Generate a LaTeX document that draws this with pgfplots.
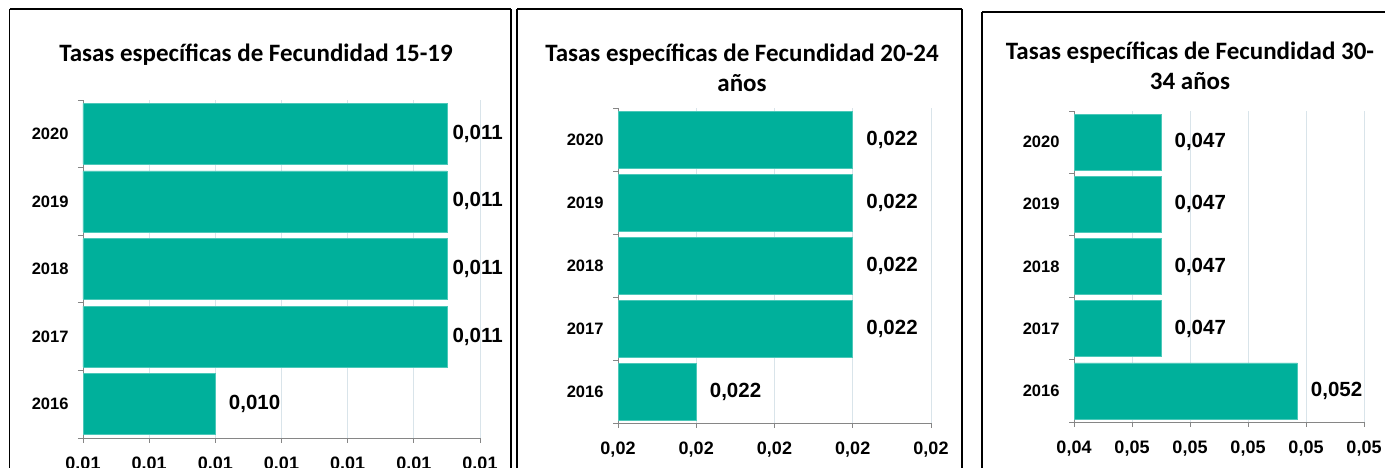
\documentclass[border=0pt]{standalone}
\usepackage{fontspec}
\setmainfont{Liberation Sans}
\newfontfamily\calibri{Carlito}
\usepackage{pgfplots}
\pgfplotsset{compat=1.18}
\definecolor{barc}{RGB}{0,176,155}
\definecolor{gridc}{RGB}{217,228,234}
\definecolor{axc}{RGB}{134,134,134}
\newcommand{\tl}[1]{\textbf{#1}}
\pgfplotsset{
  panel/.style={
    scale only axis,
    xbar, bar shift=0pt, bar width=0.9,
    ymin=-0.5, ymax=4.5,
    ytick={0,1,2,3,4},
    yticklabels={\tl{2016},\tl{2017},\tl{2018},\tl{2019},\tl{2020}},
    minor ytick={-0.5,0.5,1.5,2.5,3.5,4.5},
    major y tick style={draw=none},
    minor y tick style={axc, line width=0.8pt},
    minor tick length=5pt,
    major x tick style={axc, line width=0.8pt},
    major tick length=5pt,
    tick align=outside,
    scaled x ticks=false,
    axis x line*=bottom, axis y line*=left,
    axis line style={axc, line width=0.8pt},
    xmajorgrids, major grid style={gridc, line width=0.8pt},
    yticklabel style={font=\bfseries\fontsize{16.5}{18}\selectfont, xshift=-6pt},
    xticklabel style={font=\bfseries\fontsize{18}{20}\selectfont, yshift=-10pt},
    point meta=x,
    nodes near coords={\pgfmathprintnumber[fixed,precision=3,zerofill,use comma,assume math mode=true]{\pgfplotspointmeta}},
    nodes near coords style={font=\bfseries\fontsize{20.5}{22}\selectfont, anchor=west, text=black},
    clip=false,
  },
  bars/.style={fill=barc, draw=barc!70!white, line width=0.6pt}
}
\begin{document}
\begin{tikzpicture}
\begin{scope}
\clip (0,0) rectangle (1385pt,468pt);
% frames
\draw[black, line width=1.5pt] (9.5pt,459pt) -- (511pt,459pt);
\draw[black, line width=1.5pt] (9.5pt,459pt) -- (9.5pt,-20pt);
\draw[black, line width=1.5pt] (511pt,459pt) -- (511pt,-20pt);
\draw[black, line width=1.5pt] (517pt,459pt) -- (962pt,459pt);
\draw[black, line width=1.5pt] (517pt,459pt) -- (517pt,-20pt);
\draw[black, line width=1.5pt] (962pt,459pt) -- (962pt,-20pt);
\draw[black, line width=1.5pt] (982pt,456pt) -- (1400pt,456pt);
\draw[black, line width=1.5pt] (982pt,456pt) -- (982pt,-20pt);
% titles
\node[anchor=base, font=\calibri\bfseries\fontsize{25}{29}\selectfont, inner sep=0pt] at (256pt,406pt) {Tasas específicas de Fecundidad 15-19};
\node[anchor=base, font=\calibri\bfseries\fontsize{25}{29}\selectfont, inner sep=0pt] at (742pt,406pt) {Tasas específicas de Fecundidad 20-24};
\node[anchor=base, font=\calibri\bfseries\fontsize{25}{29}\selectfont, inner sep=0pt] at (742pt,376pt) {años};
\node[anchor=base, font=\calibri\bfseries\fontsize{25}{29}\selectfont, inner sep=0pt] at (1190pt,408pt) {Tasas específicas de Fecundidad 30-};
\node[anchor=base, font=\calibri\bfseries\fontsize{25}{29}\selectfont, inner sep=0pt] at (1190pt,378pt) {34 años};
% panel 1
\begin{axis}[panel, at={(83pt,30pt)}, anchor=south west, width=397pt, height=338pt,
  xmin=0.0098, xmax=0.011,
  xtick={0.0098,0.0100,0.0102,0.0104,0.0106,0.0108,0.0110},
  xticklabels={\tl{0.01},\tl{0.01},\tl{0.01},\tl{0.01},\tl{0.01},\tl{0.01},\tl{0.01}}]
\addplot[bars, nodes near coords style={xshift=2pt}] coordinates {(0.0109,1) (0.0109,2) (0.0109,3) (0.0109,4)};
\addplot[bars, nodes near coords style={xshift=10pt}] coordinates {(0.0102,0)};
\end{axis}
% panel 2
\begin{axis}[panel, at={(618pt,45pt)}, anchor=south west, width=313pt, height=315pt,
  xmin=0.0216, xmax=0.0224,
  xtick={0.0216,0.0218,0.0220,0.0222,0.0224},
  xticklabels={\tl{0,02},\tl{0,02},\tl{0,02},\tl{0,02},\tl{0,02}}]
\addplot[bars, nodes near coords style={xshift=10pt}] coordinates {(0.0222,1) (0.0222,2) (0.0222,3) (0.0222,4) (0.0218,0)};
\end{axis}
% panel 3
\begin{axis}[panel, at={(1074pt,46pt)}, anchor=south west, width=290pt, height=311pt,
  xmin=0.044, xmax=0.054,
  xtick={0.044,0.046,0.048,0.050,0.052,0.054},
  xticklabels={\tl{0,04},\tl{0,05},\tl{0,05},\tl{0,05},\tl{0,05},\tl{0,05}}]
\addplot[bars, nodes near coords style={xshift=10pt}] coordinates {(0.047,1) (0.047,2) (0.047,3) (0.047,4) (0.0517,0)};
\end{axis}
\end{scope}
\pgfresetboundingbox
\path[use as bounding box] (0,0) rectangle (1385pt,468pt);
\end{tikzpicture}
\end{document}
